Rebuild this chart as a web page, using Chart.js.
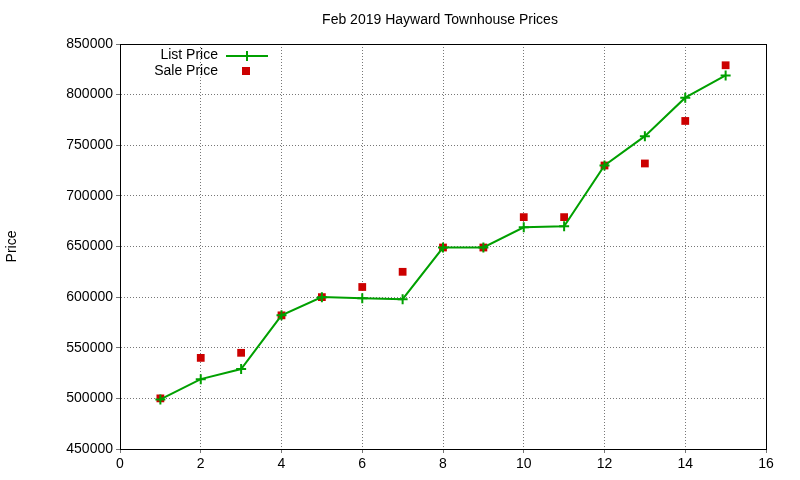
<!DOCTYPE html>
<html>
<head>
<script src="https://cdn.jsdelivr.net/npm/chart.js@4/dist/chart.umd.min.js"></script>
<style>body{margin:0;background:#fff}</style>
</head>
<body>
<canvas id="chart" width="800" height="480"></canvas>
<script>
const houses = [1, 2, 3, 4, 5, 6, 7, 8, 9, 10, 11, 12, 13, 14, 15]
const listPrices = [499000, 519000, 529000, 582000, 600000, 599000, 598000, 649000, 649000, 669000, 670000, 730000, 759000, 797000, 819000]
const salePrices = [500000, 540000, 545000, 582000, 600000, 610000, 625000, 649000, 649000, 679000, 679000, 730000, 732000, 774000, 829000]
const titleText = 'Feb 2019 Hayward Townhouse Prices'

const font = 'Liberation Sans, Arial, sans-serif'
const green = '#00a000'
const red = '#cc0000'

// gnuplot-style title, frame and legend drawn on the canvas
const extras = {
  id: 'extras',
  afterDraw(chart) {
    const c = chart.ctx
    const a = chart.chartArea
    c.save()
    c.strokeStyle = '#000'
    c.lineWidth = 1
    c.strokeRect(a.left + 0.5, a.top + 0.5, a.right - a.left, a.bottom - a.top)
    c.fillStyle = '#000'
    c.font = '14px ' + font
    c.textAlign = 'center'
    c.textBaseline = 'middle'
    c.fillText(titleText, 440, 20)
    c.textAlign = 'right'
    c.fillText('List Price', 218, 55)
    c.fillText('Sale Price', 218, 71)
    c.strokeStyle = green
    c.lineWidth = 2
    c.beginPath()
    c.moveTo(226, 56); c.lineTo(268, 56)
    c.moveTo(247, 51); c.lineTo(247, 61)
    c.stroke()
    c.fillStyle = red
    c.fillRect(242, 67, 8, 8)
    c.restore()
  }
}

const tickFont = { size: 14, family: font }

const ctx = document.getElementById('chart').getContext('2d')
new Chart(ctx, {
  type: 'line',
  data: {
    labels: houses,
    datasets: [{
      label: 'List Price',
      data: houses.map((x, i) => ({ x: x, y: listPrices[i] })),
      borderColor: green,
      backgroundColor: green,
      borderWidth: 2,
      pointStyle: 'cross',
      pointRadius: 5,
      pointBorderWidth: 2,
      tension: 0
    }, {
      label: 'Sale Price',
      data: houses.map((x, i) => ({ x: x, y: salePrices[i] })),
      showLine: false,
      borderColor: red,
      backgroundColor: red,
      pointStyle: 'rect',
      pointRadius: 5.5,
      pointBorderWidth: 0
    }]
  },
  options: {
    responsive: false,
    animation: false,
    layout: { padding: { top: 44, right: 34, left: 0, bottom: 0 } },
    plugins: { legend: { display: false }, tooltip: { enabled: false } },
    scales: {
      x: {
        type: 'linear', min: 0, max: 16,
        ticks: { stepSize: 2, color: '#000', font: tickFont },
        grid: { color: '#777', tickLength: 4 },
        border: { color: '#000', width: 1, dash: [1, 2] },
        afterFit(s) { s.height = 31 }
      },
      y: {
        min: 450000, max: 850000,
        ticks: { stepSize: 50000, color: '#000', font: tickFont, callback: v => String(v) },
        grid: { color: '#777', tickLength: 4 },
        border: { color: '#000', width: 1, dash: [1, 2] },
        title: { display: true, text: 'Price', color: '#000', font: tickFont },
        afterFit(s) { s.width = 120 }
      }
    }
  },
  plugins: [extras]
})
</script>
</body>
</html>
